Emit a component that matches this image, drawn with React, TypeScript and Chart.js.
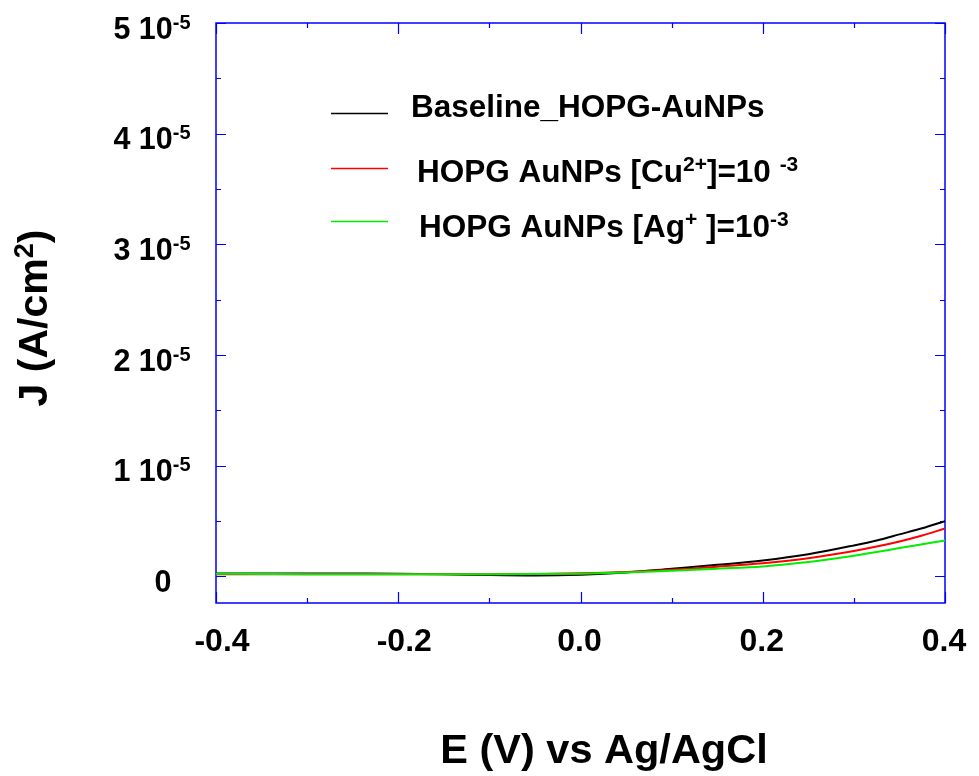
import React, { useEffect, useRef } from 'react';
import { Chart, registerables } from 'chart.js';

Chart.register(...registerables);

// ---- Data (E in V vs Ag/AgCl, J in A/cm^2) ----
const POTENTIAL_V = [-0.4, -0.35, -0.3, -0.25, -0.2, -0.15, -0.1, -0.05, 0, 0.05, 0.1, 0.15, 0.2, 0.25, 0.3, 0.325, 0.35, 0.375, 0.4];
const BASELINE_J = [2.7e-7, 2.7e-7, 2.7e-7, 2.6e-7, 2.5e-7, 2.0e-7, 1.2e-7, 0.8e-7, 1.5e-7, 3.5e-7, 7.0e-7, 1.05e-6, 1.44e-6, 2.0e-6, 2.8e-6, 3.25e-6, 3.8e-6, 4.35e-6, 5.0e-6];
const CU_J = [2.0e-7, 2.0e-7, 2.0e-7, 2.0e-7, 2.0e-7, 2.0e-7, 2.0e-7, 2.2e-7, 2.8e-7, 4.0e-7, 6.0e-7, 8.8e-7, 1.2e-6, 1.65e-6, 2.3e-6, 2.7e-6, 3.16e-6, 3.7e-6, 4.33e-6];
const AG_J = [2.5e-7, 2.2e-7, 2.0e-7, 2.0e-7, 2.0e-7, 2.0e-7, 2.0e-7, 2.1e-7, 2.5e-7, 3.5e-7, 5.2e-7, 7.0e-7, 9.0e-7, 1.3e-6, 1.87e-6, 2.2e-6, 2.56e-6, 2.9e-6, 3.25e-6];

const X_TICK_VALUES = [-0.4, -0.2, 0, 0.2, 0.4];
const X_TICK_LABELS = ['-0.4', '-0.2', '0.0', '0.2', '0.4'];
const X_TICK_MARKS = [-0.4, -0.3, -0.2, -0.1, 0, 0.1, 0.2, 0.3, 0.4];
const Y_TICK_VALUES = [0, 1e-5, 2e-5, 3e-5, 4e-5, 5e-5];
const Y_TICK_MANTISSA = ['0', '1', '2', '3', '4', '5'];
const Y_TICK_EXPONENT = '-5';
const Y_TICK_MARKS = [0, 0.5e-5, 1e-5, 1.5e-5, 2e-5, 2.5e-5, 3e-5, 3.5e-5, 4e-5, 4.5e-5, 5e-5];

const X_MIN = -0.4;
const X_MAX = 0.4;
const Y_MIN = -2.4e-6;
const Y_MAX = 5e-5;

const FONT = "'Liberation Sans', Arial, Helvetica, sans-serif";
const AXIS_COLOR = '#0000ff';

type Part = { text: string; sup?: boolean };

function drawRich(
  ctx: CanvasRenderingContext2D,
  parts: Part[],
  x: number,
  y: number,
  size: number,
  supSize: number,
  raise: number,
  align: 'left' | 'center'
) {
  const widths = parts.map((p) => {
    ctx.font = `bold ${p.sup ? supSize : size}px ${FONT}`;
    return ctx.measureText(p.text).width;
  });
  const total = widths.reduce((a, b) => a + b, 0);
  let cx = align === 'center' ? x - total / 2 : x;
  ctx.textAlign = 'left';
  ctx.textBaseline = 'alphabetic';
  parts.forEach((p, i) => {
    ctx.font = `bold ${p.sup ? supSize : size}px ${FONT}`;
    ctx.fillText(p.text, cx, p.sup ? y - raise : y);
    cx += widths[i];
  });
}

const framePlugin = {
  id: 'frameAndText',
  beforeDatasetsDraw(chart: any) {
    const { ctx, chartArea } = chart;
    const { left, right, top, bottom } = chartArea;
    const xs = chart.scales.x;
    const ys = chart.scales.y;
    ctx.save();
    ctx.strokeStyle = AXIS_COLOR;
    ctx.lineWidth = 1.5;
    ctx.strokeRect(left, top, right - left, bottom - top);
    ctx.lineWidth = 1.2;
    ctx.beginPath();
    Y_TICK_MARKS.forEach((v) => {
      const py = Math.round(ys.getPixelForValue(v)) + 0.5;
      const major = Y_TICK_VALUES.some((m) => Math.abs(m - v) < 1e-9);
      const len = major ? 10 : 5;
      ctx.moveTo(left, py);
      ctx.lineTo(left + len, py);
      ctx.moveTo(right, py);
      ctx.lineTo(right - len, py);
    });
    X_TICK_MARKS.forEach((v) => {
      const px = Math.round(xs.getPixelForValue(v)) + 0.5;
      const major = X_TICK_VALUES.some((m) => Math.abs(m - v) < 1e-9);
      const len = major ? 11 : 5;
      ctx.moveTo(px, bottom);
      ctx.lineTo(px, bottom - len);
      ctx.moveTo(px, top);
      ctx.lineTo(px, top + len);
    });
    ctx.stroke();
    ctx.restore();
  },
  afterDraw(chart: any) {
    const { ctx } = chart;
    const xs = chart.scales.x;
    const ys = chart.scales.y;
    ctx.save();
    ctx.fillStyle = '#000';

    // Y tick labels
    Y_TICK_VALUES.forEach((v, i) => {
      const py = ys.getPixelForValue(v);
      const parts: Part[] = i === 0
        ? [{ text: Y_TICK_MANTISSA[i] }]
        : [{ text: `${Y_TICK_MANTISSA[i]} 10` }, { text: Y_TICK_EXPONENT, sup: true }];
      drawRich(ctx, parts, i === 0 ? 163 : 152, py + 15.7, 30.5, 20, 10, 'center');
    });

    // X tick labels
    X_TICK_VALUES.forEach((v, i) => {
      const px = xs.getPixelForValue(v);
      const off = v < 0 ? 6 : -1;
      drawRich(ctx, [{ text: X_TICK_LABELS[i] }], px + off, 651, 32, 20, 10, 'center');
    });

    // X title
    drawRich(ctx, [{ text: 'E (V) vs Ag/AgCl' }], 604, 763, 41.5, 26, 14, 'center');

    // Y title (rotated)
    ctx.save();
    ctx.translate(47, 318);
    ctx.rotate(-Math.PI / 2);
    drawRich(ctx, [{ text: 'J (A/cm' }, { text: '2', sup: true }, { text: ')' }], 0, 0, 41, 27, 14, 'center');
    ctx.restore();

    // Legend
    const rows: { color: string; lineY: number; textX: number; base: number; parts: Part[] }[] = [
      { color: '#000000', lineY: 113, textX: 411, base: 117, parts: [{ text: 'Baseline_HOPG-AuNPs' }] },
      {
        color: '#ff0000', lineY: 168, textX: 417, base: 182,
        parts: [{ text: 'HOPG AuNPs [Cu' }, { text: '2+', sup: true }, { text: ']=10 ' }, { text: '-3', sup: true }],
      },
      {
        color: '#00ee00', lineY: 221, textX: 419, base: 237,
        parts: [{ text: 'HOPG AuNPs [Ag' }, { text: '+', sup: true }, { text: ' ]=10' }, { text: '-3', sup: true }],
      },
    ];
    rows.forEach((r) => {
      ctx.strokeStyle = r.color;
      ctx.lineWidth = 1.5;
      ctx.beginPath();
      ctx.moveTo(331, r.lineY + 0.5);
      ctx.lineTo(388, r.lineY + 0.5);
      ctx.stroke();
      ctx.fillStyle = '#000';
      drawRich(ctx, r.parts, r.textX, r.base, 31.5, 21, 11, 'left');
    });
    ctx.restore();
  },
};

export default function App() {
  const canvasRef = useRef<HTMLCanvasElement | null>(null);

  useEffect(() => {
    const canvas = canvasRef.current;
    if (!canvas) return;
    const toPts = (ys: number[]) => POTENTIAL_V.map((x, i) => ({ x, y: ys[i] }));
    const chart = new Chart(canvas, {
      type: 'line',
      data: {
        datasets: [
          { label: 'Baseline_HOPG-AuNPs', data: toPts(BASELINE_J), borderColor: '#000000', order: 2 },
          { label: 'HOPG AuNPs [Cu2+]=10-3', data: toPts(CU_J), borderColor: '#ff0000', order: 1 },
          { label: 'HOPG AuNPs [Ag+]=10-3', data: toPts(AG_J), borderColor: '#00ee00', order: 0 },
        ].map((d) => ({
          ...d,
          borderWidth: 2,
          pointRadius: 0,
          fill: false,
          cubicInterpolationMode: 'monotone' as const,
        })),
      },
      options: {
        responsive: false,
        animation: false,
        devicePixelRatio: 1,
        layout: { padding: { top: 23, right: 34, left: 0, bottom: 0 } },
        plugins: { legend: { display: false }, tooltip: { enabled: false } },
        scales: {
          x: {
            type: 'linear',
            min: X_MIN,
            max: X_MAX,
            grid: { display: false },
            border: { display: false },
            ticks: { display: false },
            afterFit: (s: any) => { s.height = 776 - 603; },
          },
          y: {
            type: 'linear',
            min: Y_MIN,
            max: Y_MAX,
            grid: { display: false },
            border: { display: false },
            ticks: { display: false },
            afterFit: (s: any) => { s.width = 216; },
          },
        },
      },
      plugins: [framePlugin],
    });
    return () => chart.destroy();
  }, []);

  return (
    <div style={{ position: 'absolute', left: 0, top: 0, width: 979, height: 776, background: '#fff' }}>
      <canvas ref={canvasRef} width={979} height={776} style={{ display: 'block' }} />
    </div>
  );
}
